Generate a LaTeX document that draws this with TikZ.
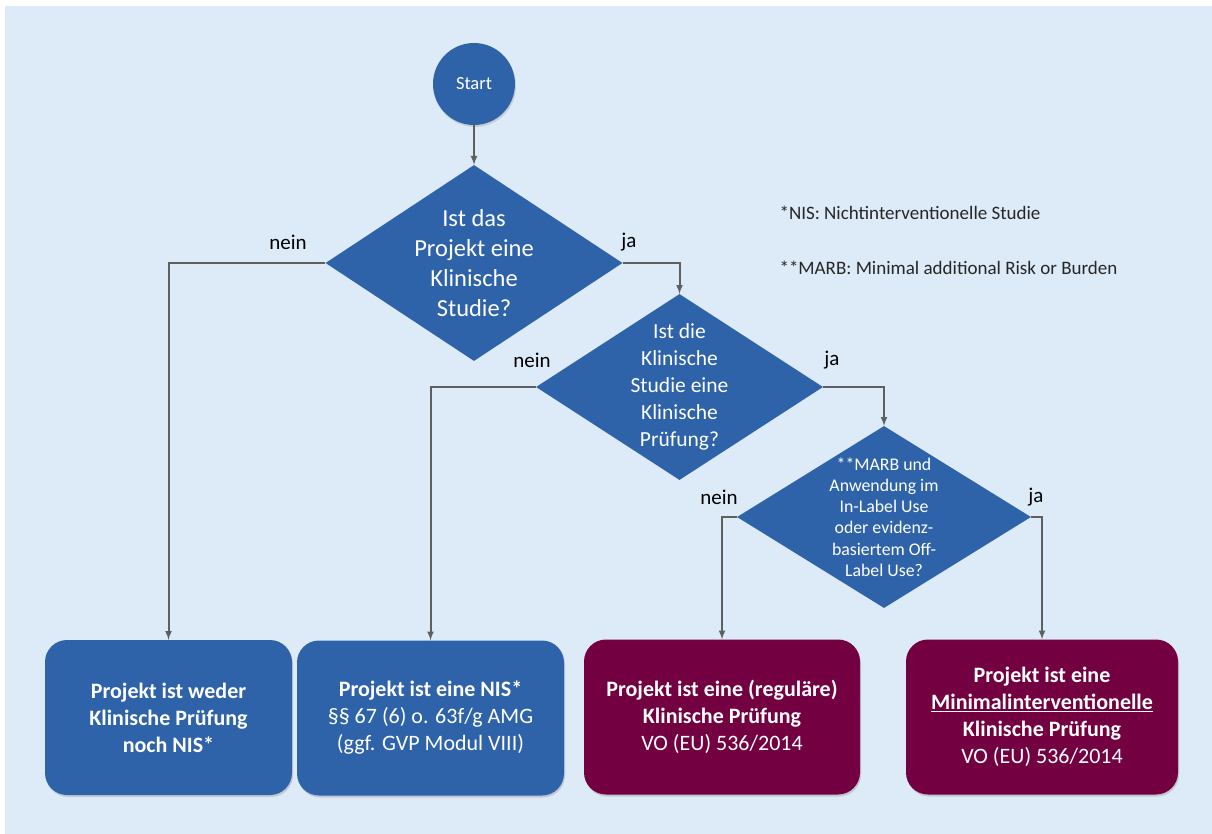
\documentclass[tikz,border=0pt]{standalone}
\usepackage{fontspec}
\setmainfont{Carlito}
\usepackage{xcolor}
\usetikzlibrary{arrows}
\usetikzlibrary{shapes.geometric, shadows}
\definecolor{myblue}{RGB}{46,99,170}
\definecolor{myred}{RGB}{115,0,64}
\definecolor{mybg}{RGB}{221,234,247}
\definecolor{mygray}{RGB}{95,95,95}

\begin{document}
\begin{tikzpicture}[x=1pt,y=-1pt,
  decision/.style={diamond, fill=myblue, inner sep=0pt},
  dtext/.style={text=white, align=center},
  endbox/.style={rectangle, rounded corners=22pt, minimum height=155pt, text=white, align=center,
    font=\fontsize{22}{27}\selectfont, drop shadow={opacity=0.3, shadow xshift=1pt, shadow yshift=-2pt}},
  flow/.style={-latex, draw=mygray, line width=2pt},
  answer/.style={font=\fontsize{21}{25}\selectfont},
  note/.style={anchor=west, text=black!85, font=\fontsize{19}{22}\selectfont}]

\useasboundingbox (0,0) rectangle (1212,834);
\fill[white] (0,0) rectangle (1212,834);
\fill[mybg] (5,6) rectangle (1212,834);

%start and the questions:
\node[circle, fill=myblue, minimum size=82pt, inner sep=0pt, text=white,
  font=\fontsize{18.5}{22}\selectfont, drop shadow={opacity=0.25, shadow xshift=1pt, shadow yshift=-2pt}]
  (start) at (474,84) {Start};
\node[decision, minimum width=297pt, minimum height=196pt,
  label={[dtext, font=\fontsize{24.5}{30}\selectfont]center:{Ist das\\Projekt eine\\Klinische\\Studie?}}]
  (d1) at (474,263) {};
\node[decision, minimum width=287pt, minimum height=186pt,
  label={[dtext, font=\fontsize{21.5}{27}\selectfont]center:{Ist die\\Klinische\\Studie eine\\Klinische\\Prüfung?}}]
  (d2) at (679.5,387) {};
\node[decision, minimum width=294pt, minimum height=182pt,
  label={[dtext, font=\fontsize{17.8}{21.2}\selectfont]center:{**MARB und\\Anwendung im\\In-Label Use\\oder evidenz-\\basiertem Off-\\Label Use?}}]
  (d3) at (884,517) {};

%the results:
\node[endbox, fill=myblue, minimum width=247pt] (b1) at (168.5,717.5)
  {\textbf{Projekt ist weder}\\\textbf{Klinische Prüfung}\\\textbf{noch NIS*}};
\node[endbox, fill=myblue, minimum width=267pt] (b2) at (430.5,718)
  {\textbf{Projekt ist eine NIS*}\\§§ 67 (6) o. 63f/g AMG\\(ggf. GVP Modul VIII)};
\node[endbox, fill=myred, minimum width=276pt] (b3) at (722,717)
  {\textbf{Projekt ist eine (reguläre)}\\\textbf{Klinische Prüfung}\\VO (EU) 536/2014};
\node[endbox, fill=myred, minimum width=272pt] (b4) at (1042,717)
  {\textbf{Projekt ist eine}\\\textbf{\underline{Minimalinterventionelle}}\\\textbf{Klinische Prüfung}\\VO (EU) 536/2014};

%arrows:
\draw[flow] (start.south) -- (d1.north);
\draw[flow] (d1.west) -| (b1.north);
\draw[flow] (d1.east) -| (d2.north);
\draw[flow] (d2.west) -| (b2.north);
\draw[flow] (d2.east) -| (d3.north);
\draw[flow] (d3.west) -| (b3.north);
\draw[flow] (d3.east) -| (b4.north);

%nein / ja:
\node[answer] (n1) at (288,242) {nein};
\node[answer] (j1) at (629,242) {ja};
\node[answer] (n2) at (532,360) {nein};
\node[answer] (j2) at (832,360) {ja};
\node[answer] (n3) at (719,497) {nein};
\node[answer] (j3) at (1036,497) {ja};

%footnotes:
\node[note] (nis) at (776,213) {*NIS: Nichtinterventionelle Studie};
\node[note] (marb) at (776,268) {**MARB: Minimal additional Risk or Burden};
\end{tikzpicture}
\end{document}
